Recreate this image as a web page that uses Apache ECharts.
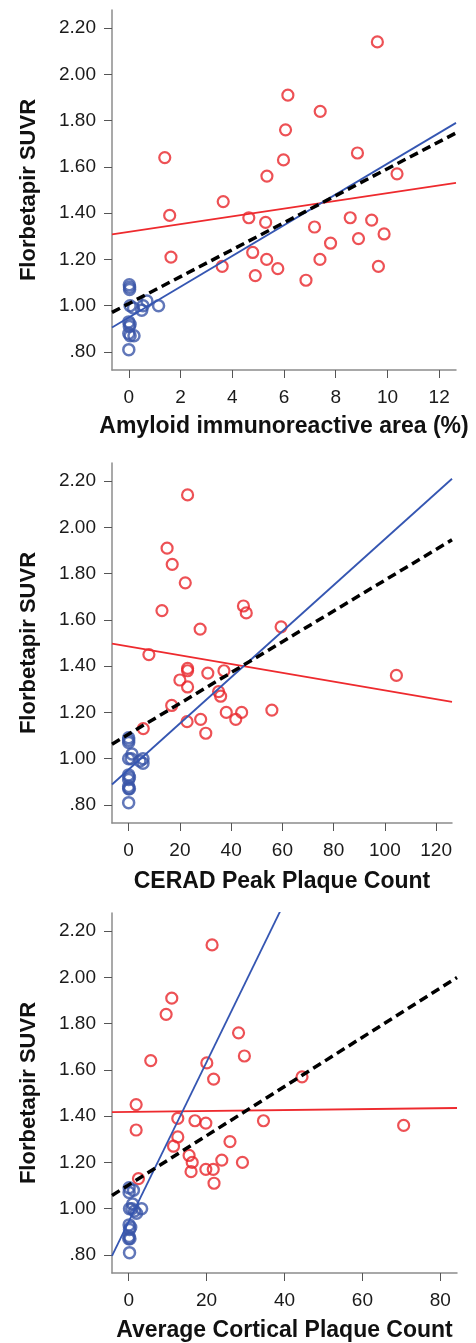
<!DOCTYPE html>
<html>
<head>
<meta charset="utf-8">
<script src="https://cdn.jsdelivr.net/npm/echarts@6/dist/echarts.min.js"></script>
<style>
html,body{margin:0;padding:0;background:#fff;}
#chart{width:476px;height:1343px;}
</style>
</head>
<body>
<div id="chart"></div>
<script>
// ---------- Data ----------
const yTicks = [0.8, 1.0, 1.2, 1.4, 1.6, 1.8, 2.0, 2.2];
const xTicks1 = [0, 2, 4, 6, 8, 10, 12];
const xTicks2 = [0, 20, 40, 60, 80, 100, 120];
const xTicks3 = [0, 20, 40, 60, 80];
const xTitles = ['Amyloid immunoreactive area (%)', 'CERAD Peak Plaque Count', 'Average Cortical Plaque Count'];
const yTitle = 'Florbetapir SUVR';

// AD (red) SUVR values – same subjects in each panel
const redY1 = [2.14,1.91,1.84,1.76,1.64,1.63,1.66,1.56,1.57,1.45,1.39,1.38,1.36,1.34,1.38,1.37,1.31,1.29,1.27,1.21,1.23,1.20,1.20,1.17,1.16,1.17,1.13,1.11];
const redX1 = [9.61,6.15,7.40,6.06,1.39,5.98,8.84,5.34,10.37,3.65,1.58,4.64,5.29,7.18,8.56,9.39,9.87,8.88,7.80,1.63,4.79,5.33,7.39,3.61,5.76,9.65,4.89,6.85];

const redY2 = [2.14,1.91,1.84,1.76,1.64,1.66,1.63,1.56,1.57,1.45,1.39,1.38,1.37,1.38,1.34,1.31,1.29,1.27,1.36,1.23,1.20,1.20,1.21,1.16,1.17,1.17,1.11,1.13];
const redX2 = [23.0,15.0,17.0,22.1,13.0,44.8,45.9,27.9,59.5,7.9,23.0,23.0,30.9,37.2,20.0,23.0,35.1,35.9,104.5,16.8,38.1,44.1,55.9,22.8,28.1,41.8,30.1,5.7];

const redY3 = [2.14,1.91,1.84,1.76,1.64,1.63,1.66,1.56,1.57,1.45,1.34,1.39,1.38,1.37,1.38,1.36,1.31,1.29,1.27,1.23,1.20,1.21,1.20,1.16,1.17,1.17,1.11,1.13];
const redX3 = [21.4,11.05,9.6,28.2,5.65,20.05,29.7,21.8,44.5,1.9,1.9,12.6,17.0,19.8,34.6,70.6,12.6,26.0,11.5,15.5,16.3,23.9,29.2,16.0,19.8,21.7,21.9,2.5];

// Control (blue) SUVR values
const blueY = [1.09,1.08,1.07,1.02,1.00,1.00,1.00,0.99,0.98,0.93,0.92,0.91,0.88,0.87,0.87,0.81];
const blueX1 = [0.02,0.03,0.03,0.70,0.05,0.55,1.15,0.18,0.50,0.00,0.05,0.02,0.00,0.05,0.20,0.00];
const blueX2 = [0,0,0,1.3,0,5.6,1.0,4.4,5.6,0,0.3,0,0,0.3,0,0];
const blueX3 = [0.1,1.2,0.1,1.0,0.2,3.3,0.8,1.5,2.0,0.1,0.5,0.2,0.1,0.3,0.0,0.2];

// Regression lines: [intercept, slope]  (red = AD, blue = control-group fit, black dashed = all)
const fit1 = { red: [1.319, 0.01677], blue: [0.949, 0.0665], all: [1.009, 0.0583] };
const fit2 = { red: [1.485, -0.001899], blue: [0.953, 0.00996], all: [1.106, 0.006654] };
const fit3 = { red: [1.418, 0.000203], blue: [0.944, 0.0345], all: [1.103, 0.01063] };

// Axis ranges
const xRange1 = [-0.65, 12.65];
const xRange2 = [-6.5, 126.2];
const xRange3 = [-4.3, 84.3];
const yRange = [0.722, 2.278];

// ---------- Styles ----------
const RED = '#e8262b', BLUE = '#3a55a8', RED_LINE = '#ee2a2e', BLUE_LINE = '#3556b2';
const AXIS_GRAY = '#8c8c8c', TXT = '#1a1a1a';
const FONT = '"Liberation Sans", Arial, sans-serif';

const grids = [
  { left: 112, top: 10, width: 344, height: 360 },
  { left: 112, top: 463, width: 340, height: 360 },
  { left: 112, top: 913, width: 345, height: 361 }
];
const xRanges = [xRange1, xRange2, xRange3];
const xTickSets = [xTicks1, xTicks2, xTicks3];
const nameGaps = [45, 47, 46];
const reds = [[redX1, redY1], [redX2, redY2], [redX3, redY3]];
const blues = [blueX1, blueX2, blueX3];
const fits = [fit1, fit2, fit3];

const zip = (xs, ys) => xs.map((x, i) => [x, ys[i]]);
const lineData = (f, r) => [[r[0], f[0] + f[1] * r[0]], [r[1], f[0] + f[1] * r[1]]];

const xAxis = [], yAxis = [], series = [];
for (let i = 0; i < 3; i++) {
  xAxis.push({
    type: 'value', gridIndex: i, min: xRanges[i][0], max: xRanges[i][1],
    name: xTitles[i], nameLocation: 'middle', nameGap: nameGaps[i],
    nameTextStyle: { fontFamily: FONT, fontWeight: 'bold', fontSize: 23, color: '#111' },
    axisLine: { onZero: false, lineStyle: { color: AXIS_GRAY, width: 1.5 } },
    axisTick: { customValues: xTickSets[i], length: 8, lineStyle: { color: '#555', width: 1 } },
    axisLabel: { customValues: xTickSets[i], margin: 18, fontFamily: FONT, fontSize: 19, color: TXT,
      formatter: v => String(Math.round(v)) },
    splitLine: { show: false }
  });
  yAxis.push({
    type: 'value', gridIndex: i, min: yRange[0], max: yRange[1],
    name: yTitle, nameLocation: 'middle', nameGap: 72, nameRotate: 90,
    nameTextStyle: { fontFamily: FONT, fontWeight: 'bold', fontSize: 22, color: '#111' },
    axisLine: { show: true, onZero: false, lineStyle: { color: AXIS_GRAY, width: 1.5 } },
    axisTick: { show: true, customValues: yTicks, length: 8, lineStyle: { color: '#555', width: 1 } },
    axisLabel: { customValues: yTicks, margin: 16, fontFamily: FONT, fontSize: 19, color: TXT,
      formatter: v => v.toFixed(2).replace(/^0/, '') },
    splitLine: { show: false }
  });
  series.push({
    type: 'scatter', xAxisIndex: i, yAxisIndex: i, symbol: 'circle', symbolSize: 11,
    data: zip(reds[i][0], reds[i][1]),
    itemStyle: { color: 'rgba(255,255,255,0)', borderColor: RED, borderWidth: 2.2 }, z: 3
  });
  series.push({
    type: 'scatter', xAxisIndex: i, yAxisIndex: i, symbol: 'circle', symbolSize: 11,
    data: zip(blues[i], blueY),
    itemStyle: { color: 'rgba(255,255,255,0)', borderColor: BLUE, borderWidth: 2.5 }, z: 3
  });
  series.push({
    type: 'line', xAxisIndex: i, yAxisIndex: i, showSymbol: false, symbol: 'none', clip: true,
    data: lineData(fits[i].red, xRanges[i]), lineStyle: { color: RED_LINE, width: 1.8 }, z: 4
  });
  series.push({
    type: 'line', xAxisIndex: i, yAxisIndex: i, showSymbol: false, symbol: 'none', clip: true,
    data: lineData(fits[i].blue, xRanges[i]), lineStyle: { color: BLUE_LINE, width: 1.8 }, z: 4
  });
  series.push({
    type: 'line', xAxisIndex: i, yAxisIndex: i, showSymbol: false, symbol: 'none', clip: true,
    data: lineData(fits[i].all, xRanges[i]), lineStyle: { color: '#000', width: 3.5, type: [9, 5] }, z: 5
  });
}

const chart = echarts.init(document.getElementById('chart'), null, { renderer: 'canvas' });
chart.setOption({
  animation: false,
  backgroundColor: '#fff',
  grid: grids,
  xAxis, yAxis, series
});
</script>
</body>
</html>
